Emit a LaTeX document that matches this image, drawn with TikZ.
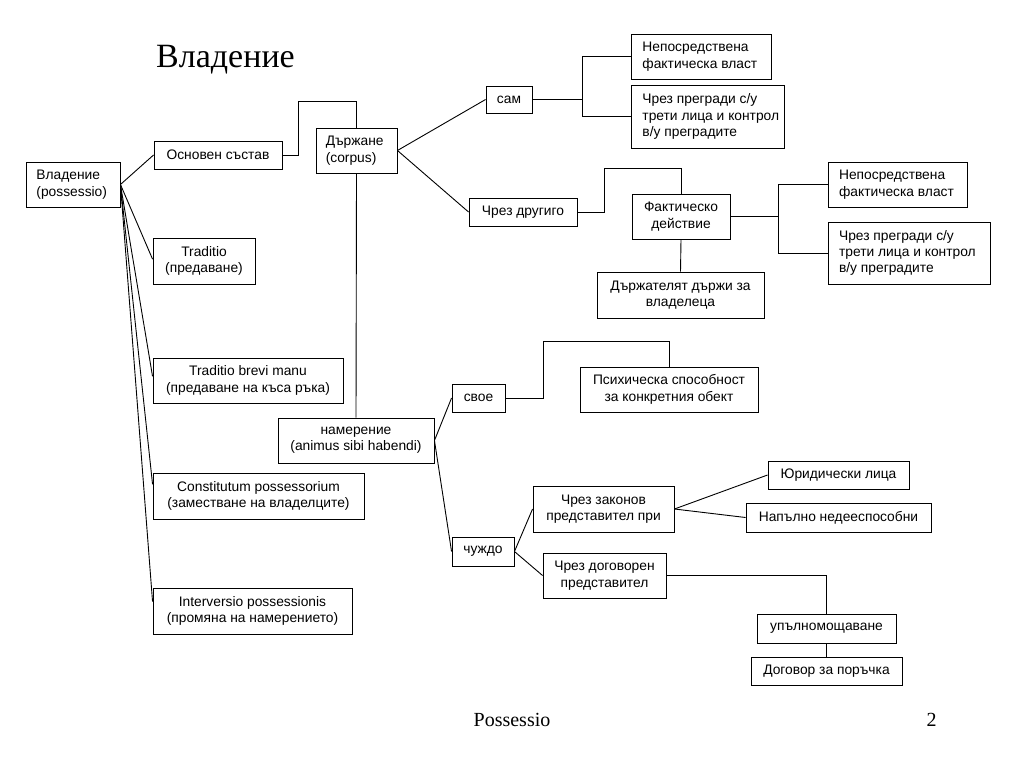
\documentclass[tikz,border=0pt]{standalone}
\usepackage{fontspec}
\setmainfont{Liberation Sans}
\newfontfamily\seriffont{Liberation Serif}
\usetikzlibrary{calc}
\newcommand\bx[6]{\node[box, minimum width={#4-#2}, minimum height={#5-#3}] (#1) at ({(#2+#4)/2},{(#3+#5)/2}) {#6};}
\newcommand\lbx[7]{\node[box, minimum width={#4-#2}, minimum height={#5-#3}] (#1) at ({(#2+#4)/2},{(#3+#5)/2}) {};
  \node[txt, anchor=west, align=left] (#1t) at ([xshift=#6pt]#1.west) {#7};}
\begin{document}
\begin{tikzpicture}[x=1pt,y=-1pt,
  txt/.style={inner sep=0pt, font=\fontsize{13.8}{16.4}\selectfont},
  box/.style={draw, line width=0.9pt, txt, align=center},
  conn/.style={line width=0.9pt},
  thickconn/.style={line width=1.8pt}]
\fill[white] (0,0) rectangle (1024,768);
\useasboundingbox (0,0) rectangle (1024,768);

\node[font=\seriffont\fontsize{34}{40}\selectfont, anchor=base west, inner sep=0pt] (title) at (156,67) {Владение};
\node[font=\seriffont\fontsize{20}{24}\selectfont, anchor=base, inner sep=0pt] (foot) at (512,726) {Possessio};
\node[font=\seriffont\fontsize{20}{24}\selectfont, anchor=base, inner sep=0pt] (page) at (931.5,726) {2};

% boxes
\lbx{vlad}{26}{162}{120}{207}{10.7}{Владение\\(possessio)}
\bx{osn}{154}{141}{282}{169}{Основен състав}
\lbx{drzh}{316}{128}{397}{173}{10}{Държане\\(corpus)}
\bx{sam}{486}{86}{532}{113}{сам}
\lbx{nepoA}{631}{34}{771}{79}{11.7}{Непосредствена\\фактическа власт}
\lbx{chrezA}{631}{85}{784}{148}{11.7}{Чрез прегради с/у\\трети лица и контрол\\в/у преградите}
\bx{drugigo}{469}{198}{577}{226}{Чрез другиго}
\bx{fakt}{632}{194}{730}{239}{Фактическо\\действие}
\bx{drzhtel}{597}{272}{764}{318}{Държателят държи за\\владелеца}
\lbx{nepoB}{828}{162}{967}{207}{11.3}{Непосредствена\\фактическа власт}
\lbx{chrezB}{828}{222}{990}{284}{11.3}{Чрез прегради с/у\\трети лица и контрол\\в/у преградите}
\bx{traditio}{153}{238}{255}{284}{Traditio\\(предаване)}
\bx{brevi}{153}{358}{343}{403}{Traditio brevi manu\\(предаване на къса ръка)}
\bx{namer}{278}{418}{434}{463}{намерение\\(animus sibi habendi)}
\bx{svoe}{452}{384}{505}{412}{свое}
\bx{psih}{580}{367}{758}{412}{Психическа способност\\за конкретния обект}
\bx{constit}{153}{473}{364}{519}{Constitutum possessorium\\(заместване на владелците)}
\bx{interv}{153}{588}{352}{634}{Interversio possessionis\\(промяна на намерението)}
\bx{chuzhdo}{452}{537}{514}{566}{чуждо}
\bx{zakonov}{533}{486}{674}{532}{Чрез законов\\представител при}
\bx{dogovoren}{543}{553}{666}{598}{Чрез договорен\\представител}
\bx{yurid}{768}{461}{909}{489}{Юридически лица}
\bx{napalno}{746}{503}{931}{532}{Напълно недееспособни}
\bx{upalnom}{757}{614}{896}{643}{упълномощаване}
\bx{dogovor}{751}{657}{902}{685}{Договор за поръчка}

% connectors
\draw[conn] (vlad.east) -- (osn.west);
\draw[conn] (vlad.east) -- ($(traditio.north west)!0.46!(traditio.south west)$);
\draw[conn] (vlad.east) -- ($(brevi.north west)!0.41!(brevi.south west)$);
\draw[conn] (vlad.east) -- ($(constit.north west)!0.25!(constit.south west)$);
\draw[conn] (vlad.east) -- ($(interv.north west)!0.3!(interv.south west)$);

\draw[conn] (osn.east) -- ++(16,0) |- ([yshift=26pt]drzh.north) -- (drzh.north);
\draw[conn] (drzh.east) -- (sam.west);
\draw[conn] (drzh.east) -- (drugigo.west);
\draw[conn] (drzh.south) -- (namer.north);

\draw[conn] (sam.east) -- ++(50,0) coordinate (samj);
\draw[conn] (samj) |- (nepoA.west);
\draw[conn] (samj) |- (chrezA.west);

\draw[conn] (drugigo.east) -- ++(27,0) |- ([yshift=25pt]fakt.north) -- (fakt.north);
\draw[conn] (fakt.south) -- (drzhtel.north);
\draw[thickconn] (fakt.east) -- ++(48,0) coordinate (faktj);
\draw[conn] (faktj) |- (nepoB.west);
\draw[conn] (faktj) |- (chrezB.west);

\draw[conn] (namer.east) -- (svoe.west);
\draw[conn] (namer.east) -- (chuzhdo.west);
\draw[conn] (svoe.east) -- ++(38,0) |- ([yshift=25pt]psih.north) -- (psih.north);

\draw[conn] (chuzhdo.east) -- (zakonov.west);
\draw[conn] (chuzhdo.east) -- (dogovoren.west);
\draw[conn] (zakonov.east) -- (yurid.west);
\draw[conn] (zakonov.east) -- (napalno.west);
\draw[conn] (dogovoren.east) -| (upalnom.north);
\draw[conn] (upalnom.south) -- (dogovor.north);
\end{tikzpicture}
\end{document}
